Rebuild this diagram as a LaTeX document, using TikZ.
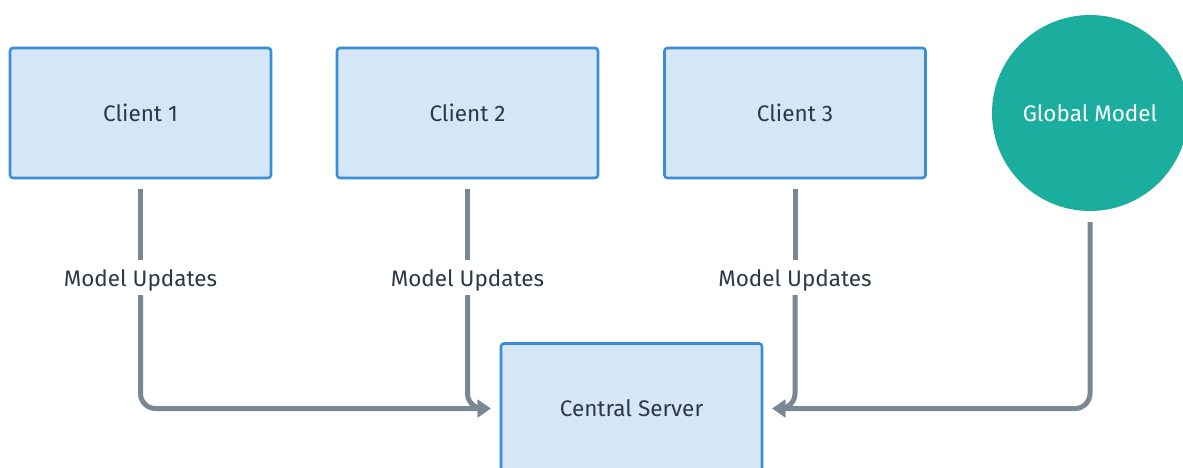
\documentclass[tikz,border=0pt]{standalone}
\usepackage{fontspec}
\setmainfont{Fira Sans}
\usetikzlibrary{arrows.meta}
\definecolor{boxfill}{HTML}{D5E6F6}
\definecolor{boxline}{HTML}{3A8ED9}
\definecolor{txt}{HTML}{2B3947}
\definecolor{conn}{HTML}{7A8896}
\definecolor{teal}{HTML}{1BAE9F}
\tikzset{
  box/.style={draw=boxline, fill=boxfill, line width=2.6pt, rounded corners=3pt,
    minimum width=261pt, minimum height=130pt, inner sep=0pt,
    font=\fontsize{22.5pt}{26pt}\selectfont, text=txt},
  gmodel/.style={circle, fill=teal, minimum size=196pt, inner sep=0pt,
    font=\fontsize{22.5pt}{26pt}\selectfont, text=white},
  lbl/.style={fill=white, inner xsep=2pt, inner ysep=0pt, text height=16pt, text depth=5pt,
    font=\fontsize{22.5pt}{26pt}\selectfont, text=txt},
  link/.style={draw=conn, line width=5pt, rounded corners=15pt},
  arr/.style={link, -{Triangle[length=13pt,width=17pt]}},
}
\begin{document}
\begin{tikzpicture}[x=1pt,y=-1pt]
\useasboundingbox (0,0) rectangle (1183,468);
\clip (0,0) rectangle (1183,468);
\node[box] (c1) at (140.5,113) {Client 1};
\node[box] (c2) at (467.5,113) {Client 2};
\node[box] (c3) at (795,113) {Client 3};
\node[gmodel] (gm) at (1090,113) {Global Model};
\node[box] (cs) at (631.5,408.5) {Central Server};
\coordinate (inL) at ([xshift=-9pt]cs.west);
\coordinate (inR) at ([xshift=9pt]cs.east);
\node[lbl] (l1) at (140.5,280.5) {Model Updates};
\node[lbl] (l2) at (467.5,280.5) {Model Updates};
\node[lbl] (l3) at (795,280.5) {Model Updates};
\draw[link] ([yshift=-10pt]c1.south) -- ([yshift=10pt]l1.north);
\draw[link] ([yshift=-10pt]c2.south) -- ([yshift=10pt]l2.north);
\draw[link] ([yshift=-10pt]c3.south) -- ([yshift=10pt]l3.north);
\draw[arr] ([yshift=-4pt]l1.south) |- (inL);
\draw[arr] ([yshift=-4pt]l2.south) |- (inL);
\draw[arr] ([yshift=-4pt]l3.south) |- (inR);
\draw[arr] ([yshift=-11pt]gm.south) |- (inR);
\end{tikzpicture}
\end{document}
